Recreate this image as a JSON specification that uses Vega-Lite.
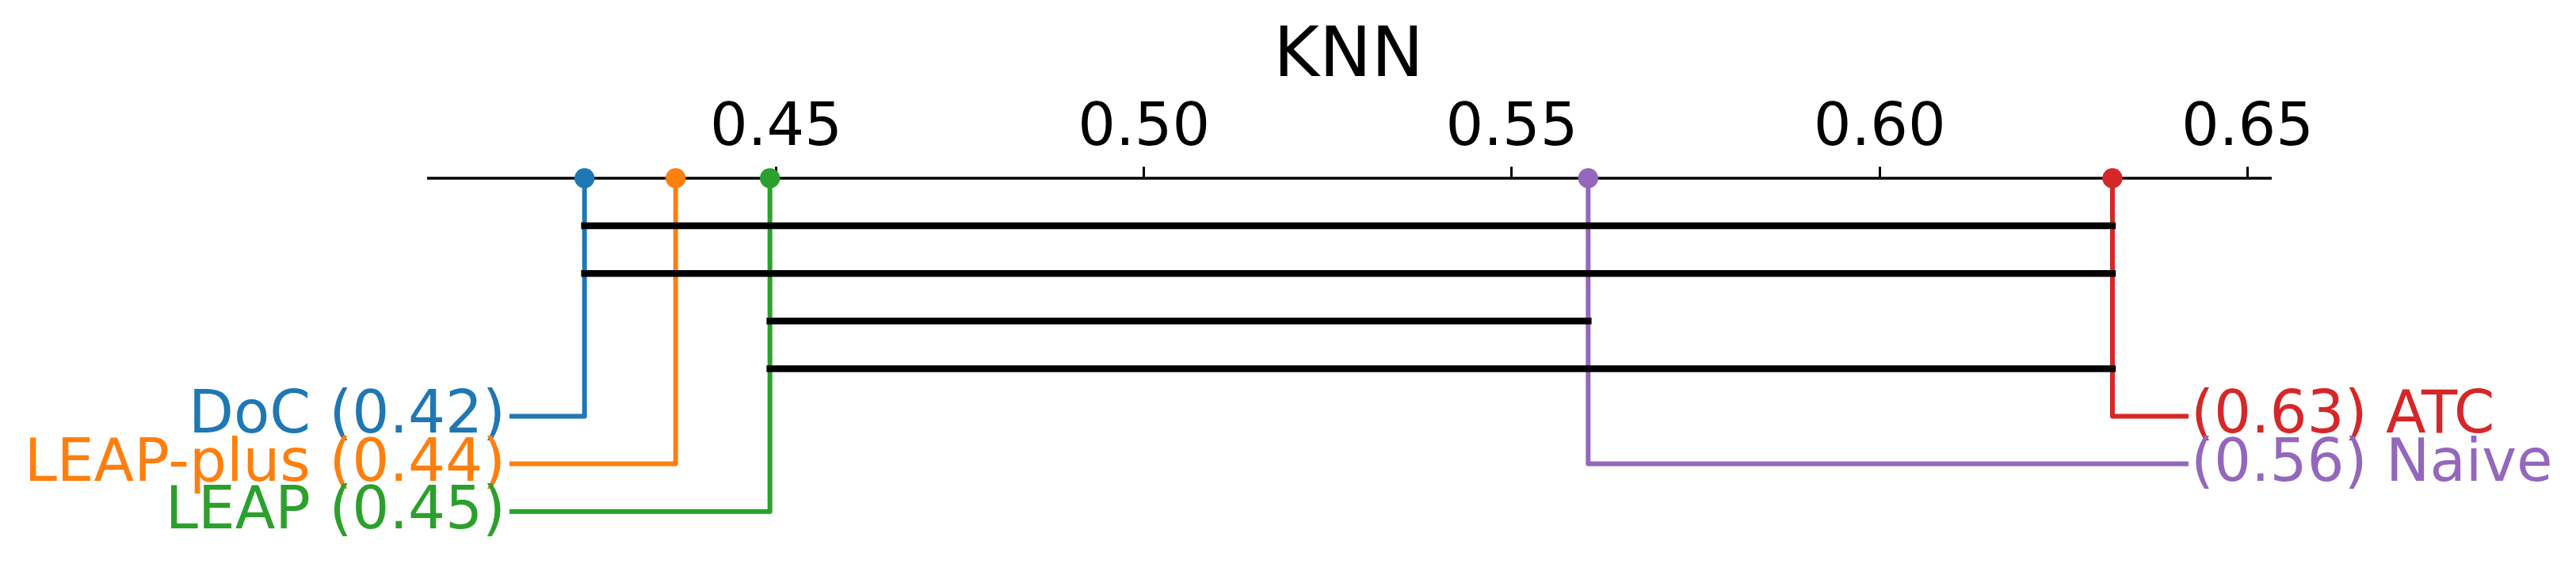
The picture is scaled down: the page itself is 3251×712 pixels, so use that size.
{
  "$schema": "https://vega.github.io/schema/vega-lite/v6.json",
  "width": 3251,
  "height": 712,
  "padding": 0,
  "autosize": {"type": "none"},
  "background": "white",
  "config": {"view": {"stroke": null}},
  "title": {"text": "KNN", "font": "DejaVu Sans", "fontSize": 88, "fontWeight": "normal", "color": "black", "anchor": "middle", "frame": "group", "offset": -85, "baseline": "alphabetic", "dx": 76.5, "dy": 99},
  "datasets": {
    "methods": [
      {"name": "DoC", "label": "DoC (0.42)", "score": 0.42401, "level": 5, "side": "left"},
      {"name": "LEAP-plus", "label": "LEAP-plus (0.44)", "score": 0.43640, "level": 6, "side": "left"},
      {"name": "LEAP", "label": "LEAP (0.45)", "score": 0.44921, "level": 7, "side": "left"},
      {"name": "ATC", "label": "(0.63) ATC", "score": 0.63169, "level": 5, "side": "right"},
      {"name": "Naive", "label": "(0.56) Naive", "score": 0.56043, "level": 6, "side": "right"}
    ],
    "cliques": [
      {"start": 0.42401, "end": 0.63169, "level": 1},
      {"start": 0.42401, "end": 0.63169, "level": 2},
      {"start": 0.44921, "end": 0.56043, "level": 3},
      {"start": 0.44921, "end": 0.63169, "level": 4}
    ],
    "axisline": [
      {"from": 0.40261, "to": 0.65334, "level": 0}
    ]
  },
  "layer": [
    {
      "data": {"name": "axisline"},
      "mark": {"type": "rule", "color": "black", "strokeWidth": 3.5},
      "encoding": {
        "x": {"field": "from", "type": "quantitative", "scale": {"domain": [0.34456, 0.6947], "nice": false, "zero": false},
          "axis": {"orient": "top", "offset": -225, "domain": false, "values": [0.45, 0.5, 0.55, 0.6, 0.65], "format": ".2f", "tickSize": 15, "tickWidth": 3, "tickColor": "black", "labelFont": "DejaVu Sans", "labelFontSize": 75, "labelColor": "black", "labelBaseline": "alphabetic", "labelPadding": 28, "labelFlush": false, "labelOverlap": false, "grid": false, "title": null}},
        "x2": {"field": "to"},
        "y": {"field": "level", "type": "quantitative", "scale": {"domain": [-3.7438, 8.1032], "nice": false, "zero": false, "reverse": true}, "axis": null}
      }
    },
    {
      "data": {"name": "methods"},
      "mark": {"type": "rule", "strokeWidth": 6, "strokeCap": "round"},
      "encoding": {
        "x": {"field": "score", "type": "quantitative",
          "axis": {"orient": "top", "offset": -225, "domain": false, "values": [0.45, 0.5, 0.55, 0.6, 0.65], "format": ".2f", "tickSize": 15, "tickWidth": 3, "tickColor": "black", "labelFont": "DejaVu Sans", "labelFontSize": 75, "labelColor": "black", "labelBaseline": "alphabetic", "labelPadding": 28, "labelFlush": false, "labelOverlap": false, "grid": false, "title": null}},
        "y": {"field": "level", "type": "quantitative", "axis": null},
        "y2": {"datum": 0},
        "color": {"field": "name", "type": "nominal", "scale": {"domain": ["DoC", "LEAP-plus", "LEAP", "ATC", "Naive"], "range": ["#1f77b4", "#ff7f0e", "#2ca02c", "#d62728", "#9467bd"]}, "legend": null}
      }
    },
    {
      "data": {"name": "methods"},
      "transform": [{"filter": "datum.side === 'left'"}],
      "mark": {"type": "rule", "strokeWidth": 6, "strokeCap": "butt"},
      "encoding": {
        "x": {"field": "score", "type": "quantitative",
          "axis": {"orient": "top", "offset": -225, "domain": false, "values": [0.45, 0.5, 0.55, 0.6, 0.65], "format": ".2f", "tickSize": 15, "tickWidth": 3, "tickColor": "black", "labelFont": "DejaVu Sans", "labelFontSize": 75, "labelColor": "black", "labelBaseline": "alphabetic", "labelPadding": 28, "labelFlush": false, "labelOverlap": false, "grid": false, "title": null}},
        "x2": {"datum": 0.41381},
        "y": {"field": "level", "type": "quantitative", "axis": null},
        "color": {"field": "name", "type": "nominal", "legend": null}
      }
    },
    {
      "data": {"name": "methods"},
      "transform": [{"filter": "datum.side === 'right'"}],
      "mark": {"type": "rule", "strokeWidth": 6, "strokeCap": "butt"},
      "encoding": {
        "x": {"field": "score", "type": "quantitative",
          "axis": {"orient": "top", "offset": -225, "domain": false, "values": [0.45, 0.5, 0.55, 0.6, 0.65], "format": ".2f", "tickSize": 15, "tickWidth": 3, "tickColor": "black", "labelFont": "DejaVu Sans", "labelFontSize": 75, "labelColor": "black", "labelBaseline": "alphabetic", "labelPadding": 28, "labelFlush": false, "labelOverlap": false, "grid": false, "title": null}},
        "x2": {"datum": 0.64203},
        "y": {"field": "level", "type": "quantitative", "axis": null},
        "color": {"field": "name", "type": "nominal", "legend": null}
      }
    },
    {
      "data": {"name": "cliques"},
      "mark": {"type": "rule", "color": "black", "strokeWidth": 8.5, "strokeCap": "square"},
      "encoding": {
        "x": {"field": "start", "type": "quantitative",
          "axis": {"orient": "top", "offset": -225, "domain": false, "values": [0.45, 0.5, 0.55, 0.6, 0.65], "format": ".2f", "tickSize": 15, "tickWidth": 3, "tickColor": "black", "labelFont": "DejaVu Sans", "labelFontSize": 75, "labelColor": "black", "labelBaseline": "alphabetic", "labelPadding": 28, "labelFlush": false, "labelOverlap": false, "grid": false, "title": null}},
        "x2": {"field": "end"},
        "y": {"field": "level", "type": "quantitative", "axis": null}
      }
    },
    {
      "data": {"name": "methods"},
      "mark": {"type": "circle", "size": 640, "opacity": 1},
      "encoding": {
        "x": {"field": "score", "type": "quantitative",
          "axis": {"orient": "top", "offset": -225, "domain": false, "values": [0.45, 0.5, 0.55, 0.6, 0.65], "format": ".2f", "tickSize": 15, "tickWidth": 3, "tickColor": "black", "labelFont": "DejaVu Sans", "labelFontSize": 75, "labelColor": "black", "labelBaseline": "alphabetic", "labelPadding": 28, "labelFlush": false, "labelOverlap": false, "grid": false, "title": null}},
        "y": {"datum": 0, "type": "quantitative", "axis": null},
        "color": {"field": "name", "type": "nominal", "legend": null}
      }
    },
    {
      "data": {"name": "methods"},
      "transform": [{"filter": "datum.side === 'left'"}],
      "mark": {"type": "text", "align": "right", "baseline": "alphabetic", "dy": 21, "font": "DejaVu Sans", "fontSize": 74},
      "encoding": {
        "x": {"datum": 0.41327, "type": "quantitative",
          "axis": {"orient": "top", "offset": -225, "domain": false, "values": [0.45, 0.5, 0.55, 0.6, 0.65], "format": ".2f", "tickSize": 15, "tickWidth": 3, "tickColor": "black", "labelFont": "DejaVu Sans", "labelFontSize": 75, "labelColor": "black", "labelBaseline": "alphabetic", "labelPadding": 28, "labelFlush": false, "labelOverlap": false, "grid": false, "title": null}},
        "y": {"field": "level", "type": "quantitative", "axis": null},
        "text": {"field": "label"},
        "color": {"field": "name", "type": "nominal", "legend": null}
      }
    },
    {
      "data": {"name": "methods"},
      "transform": [{"filter": "datum.side === 'right'"}],
      "mark": {"type": "text", "align": "left", "baseline": "alphabetic", "dy": 21, "font": "DejaVu Sans", "fontSize": 74},
      "encoding": {
        "x": {"datum": 0.64236, "type": "quantitative",
          "axis": {"orient": "top", "offset": -225, "domain": false, "values": [0.45, 0.5, 0.55, 0.6, 0.65], "format": ".2f", "tickSize": 15, "tickWidth": 3, "tickColor": "black", "labelFont": "DejaVu Sans", "labelFontSize": 75, "labelColor": "black", "labelBaseline": "alphabetic", "labelPadding": 28, "labelFlush": false, "labelOverlap": false, "grid": false, "title": null}},
        "y": {"field": "level", "type": "quantitative", "axis": null},
        "text": {"field": "label"},
        "color": {"field": "name", "type": "nominal", "legend": null}
      }
    }
  ]
}
